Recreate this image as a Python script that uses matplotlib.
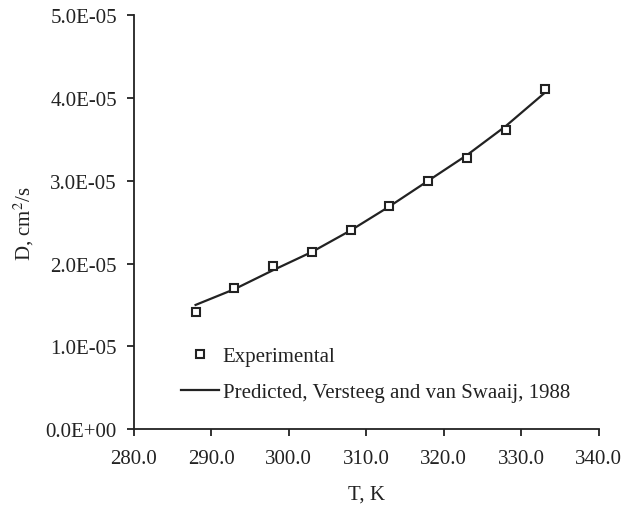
import numpy as np
import matplotlib.pyplot as plt

plt.rcParams['font.family'] = ['Liberation Serif', 'DejaVu Serif']
plt.rcParams['mathtext.fontset'] = 'stix'

# temperature, K
temp_exp = [288, 293, 298, 303, 308, 313, 318, 323, 328, 333]
# measured diffusivity, cm2/s
d_exp = [1.41e-5, 1.71e-5, 1.965e-5, 2.145e-5, 2.40e-5, 2.70e-5,
         3.00e-5, 3.28e-5, 3.61e-5, 4.11e-5]

# predicted diffusivity (Versteeg and van Swaaij, 1988)
temp_pred = [288, 293, 298, 303, 308, 313, 318, 323, 328, 333]
d_pred = [1.50e-5, 1.69e-5, 1.92e-5, 2.14e-5, 2.40e-5, 2.69e-5,
          3.00e-5, 3.31e-5, 3.66e-5, 4.06e-5]

x_ticks = [280, 290, 300, 310, 320, 330, 340]
y_ticks = [0, 1e-5, 2e-5, 3e-5, 4e-5, 5e-5]


def main():
    fig = plt.figure(figsize=(6.27, 5.06), dpi=100)
    ax = fig.add_axes([0.213, 0.150, 0.742, 0.818])

    ax.plot(temp_exp, d_exp, 's', ms=6, mfc='white', mec='#222222',
            mew=1.5, label='Experimental', zorder=3)
    ax.plot(temp_pred, d_pred, '-', color='#222222', lw=1.6,
            label='Predicted, Versteeg and van Swaaij, 1988')

    ax.set_xlim(280, 340)
    ax.set_ylim(0, 5e-5)
    ax.set_xticks(x_ticks)
    ax.set_yticks(y_ticks)
    ax.set_xticklabels(['%.1f' % t for t in x_ticks])
    ax.set_yticklabels(['%.1E' % v for v in y_ticks])

    for side in ('top', 'right'):
        ax.spines[side].set_visible(False)
    for side in ('left', 'bottom'):
        ax.spines[side].set_linewidth(1.3)
        ax.spines[side].set_color('#222222')
    ax.tick_params(direction='out', length=5, width=1.3, color='#222222',
                   labelsize=15, labelcolor='#222222')
    ax.tick_params(axis='x', pad=9)
    ax.tick_params(axis='y', pad=7)

    ax.set_xlabel('T, K', fontsize=15, color='#222222', labelpad=12.5)
    ax.set_ylabel('D, cm$^2$/s', fontsize=15, color='#222222', labelpad=7)

    ax.legend(loc='upper left', bbox_to_anchor=(0.062, 0.245), frameon=False,
              fontsize=15, handlelength=1.8, handletextpad=0.2,
              labelspacing=0.78, labelcolor='#222222')

    fig.savefig('out.png', dpi=100)


main()
